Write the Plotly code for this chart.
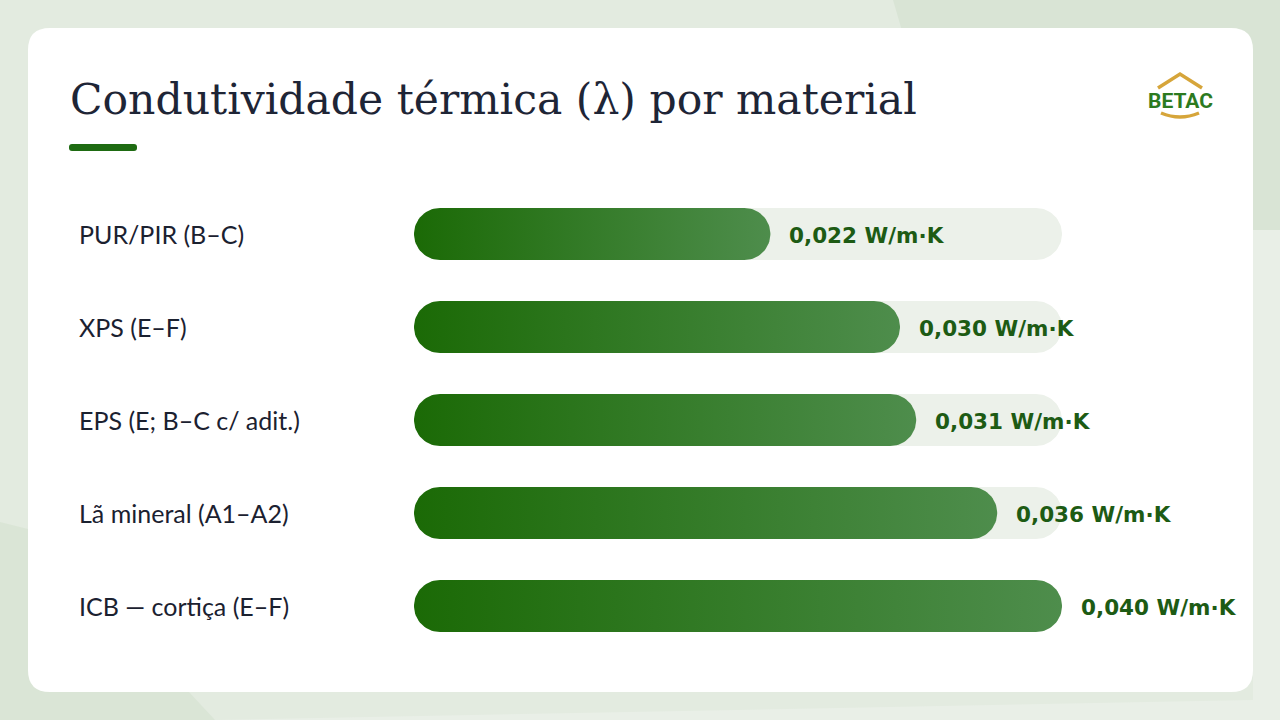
import numpy as np
import plotly.graph_objects as go

# ---- data ----
materials = ["PUR/PIR (B–C)", "XPS (E–F)", "EPS (E; B–C c/ adit.)", "Lã mineral (A1–A2)", "ICB — cortiça (E–F)"]
lambda_values = [0.022, 0.030, 0.031, 0.036, 0.040]
value_labels = ["0,022 W/m·K", "0,030 W/m·K", "0,031 W/m·K", "0,036 W/m·K", "0,040 W/m·K"]
axis_max = 0.040
title_text = "Condutividade térmica (λ) por material"

W, H = 1280, 720
PLOT_X0, PLOT_X1 = 414, 1062          # pixel extent of the bar area
ROW_PX = 93                           # pixels per row
FIRST_ROW_PX = 234
BAR_R_PX = 26                         # half bar height / corner radius

def px(x):
    return x / W

def py(y):
    return 1 - y / H

n = len(materials)
ytop = FIRST_ROW_PX - ROW_PX / 2
ybot = ytop + n * ROW_PX

rx = BAR_R_PX * axis_max / (PLOT_X1 - PLOT_X0)
ry = BAR_R_PX / ROW_PX


def stadium(v, yc):
    t1 = np.linspace(-np.pi / 2, np.pi / 2, 40)
    t2 = np.linspace(np.pi / 2, 3 * np.pi / 2, 40)
    xs = np.concatenate([v - rx + rx * np.cos(t1), rx + rx * np.cos(t2)])
    ys = np.concatenate([yc + ry * np.sin(t1), yc + ry * np.sin(t2)])
    return np.append(xs, xs[0]), np.append(ys, ys[0])


fig = go.Figure()
for i, v in enumerate(lambda_values):
    tx, ty = stadium(axis_max, i)
    fig.add_trace(go.Scatter(x=tx, y=ty, mode="lines", fill="toself", line=dict(width=0),
                             fillcolor="#ecf1ea", hoverinfo="skip", showlegend=False))
for i, v in enumerate(lambda_values):
    bx, by = stadium(v, i)
    fig.add_trace(go.Scatter(x=bx, y=by, mode="lines", fill="toself", line=dict(width=0),
                             fillgradient=dict(type="horizontal",
                                               colorscale=[[0, "#1b6a06"], [1, "#4e8d4c"]]),
                             hoverinfo="skip", showlegend=False))

annotations = []
for i, (m, lab, v) in enumerate(zip(materials, value_labels, lambda_values)):
    annotations.append(dict(x=px(77), xref="paper", y=i, yref="y", text=m, showarrow=False,
                            xanchor="left", yanchor="middle",
                            font=dict(family="Lato", size=25, color="#1b2130")))
    annotations.append(dict(x=v, xref="x", y=i, yref="y", text=lab, showarrow=False,
                            xanchor="left", yanchor="middle", xshift=17, yshift=-1,
                            font=dict(family="DejaVu Sans", size=21.5, color="#1d5b14", weight=700)))

annotations.append(dict(x=px(68), xref="paper", y=py(100), yref="paper", text=title_text,
                        showarrow=False, xanchor="left", yanchor="middle",
                        font=dict(family="DejaVu Serif", size=42.5, color="#1e2536")))
annotations.append(dict(x=px(1180), xref="paper", y=py(101), yref="paper", text="<b>BETAC</b>",
                        showarrow=False, xanchor="center", yanchor="middle",
                        font=dict(family="Roboto", size=21, color="#2c7a1f")))


def rounded_rect(x0, y0, x1, y1, r):
    rxp, ryp = r / W, r / H
    X0, X1 = px(x0), px(x1)
    Y0, Y1 = py(y0), py(y1)   # Y0 top (larger), Y1 bottom
    return (f"M {X0+rxp},{Y0} L {X1-rxp},{Y0} Q {X1},{Y0} {X1},{Y0-ryp} "
            f"L {X1},{Y1+ryp} Q {X1},{Y1} {X1-rxp},{Y1} L {X0+rxp},{Y1} "
            f"Q {X0},{Y1} {X0},{Y1+ryp} L {X0},{Y0-ryp} Q {X0},{Y0} {X0+rxp},{Y0} Z")


def poly(pts):
    return "M " + " L ".join(f"{px(a)},{py(b)}" for a, b in pts) + " Z"


shapes = [
    dict(type="path", xref="paper", yref="paper", layer="below", line=dict(width=0),
         fillcolor="#d9e4d5", path=poly([(893, 0), (1280, 0), (1280, 230), (960, 230)])),
    dict(type="path", xref="paper", yref="paper", layer="below", line=dict(width=0),
         fillcolor="#e9efe7", path=poly([(1253, 230), (1280, 230), (1280, 720), (215, 720), (1253, 700)])),
    dict(type="path", xref="paper", yref="paper", layer="below", line=dict(width=0),
         fillcolor="#dae5d6", path=poly([(0, 522), (40, 532), (215, 720), (0, 720)])),
    dict(type="path", xref="paper", yref="paper", layer="below", line=dict(width=0),
         fillcolor="#ffffff", path=rounded_rect(28, 28, 1253, 692, 22)),
    # title underline
    dict(type="path", xref="paper", yref="paper", layer="above", line=dict(width=0),
         fillcolor="#1e6b12", path=rounded_rect(69, 144, 137, 151, 3)),
    # logo roof
    dict(type="path", xref="paper", yref="paper", layer="above",
         line=dict(width=3.5, color="#d6a53a"),
         path=f"M {px(1158)},{py(88)} L {px(1180)},{py(74)} L {px(1202)},{py(88)}"),
    # logo smile
    dict(type="path", xref="paper", yref="paper", layer="above",
         line=dict(width=3.5, color="#d6a53a"),
         path=f"M {px(1161)},{py(113)} Q {px(1180)},{py(121)} {px(1199)},{py(113)}"),
]

fig.update_layout(
    width=W, height=H,
    margin=dict(l=0, r=0, t=0, b=0),
    paper_bgcolor="#e3ebe0",
    plot_bgcolor="rgba(0,0,0,0)",
    xaxis=dict(domain=[px(PLOT_X0), px(PLOT_X1)], range=[0, axis_max], visible=False, fixedrange=True),
    yaxis=dict(domain=[py(ybot), py(ytop)], range=[n - 0.5, -0.5], visible=False, fixedrange=True),
    shapes=shapes,
    annotations=annotations,
    showlegend=False,
)

fig.write_html("out.html", config={"displayModeBar": False},
               post_script="document.body.style.margin='0';")
